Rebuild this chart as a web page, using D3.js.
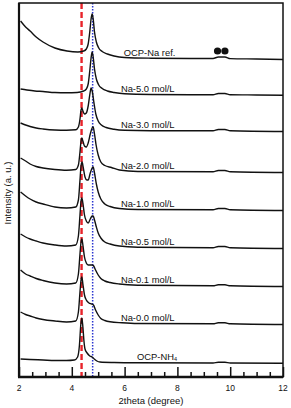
<!DOCTYPE html>
<html>
<head>
<meta charset="utf-8">
<script src="https://cdn.jsdelivr.net/npm/d3@7"></script>
<style>
  body { margin: 0; background: #fff; }
  text { font-family: "Liberation Sans", Arial, sans-serif; fill: #111; }
</style>
</head>
<body>
<div id="chart"></div>
<script>
// curve names, bottom to top
var names = ["OCP-NH4", "Na-0.0 mol/L", "Na-0.1 mol/L", "Na-0.5 mol/L", "Na-1.0 mol/L",
             "Na-2.0 mol/L", "Na-3.0 mol/L", "Na-5.0 mol/L", "OCP-Na ref."];
// vertical offset of every pattern (a. u.)
var offsets = [14, 53, 91, 129, 167, 205, 246, 282, 318];

// [2theta, intensity above offset]
var nh4 = [[2.06,4],[2.42,3.5],[2.91,3],[3.36,2.5],[3.8,2.5],[4.1,3],[4.22,6],[4.29,18],[4.34,38],[4.38,45],[4.42,36],[4.46,22],[4.5,14],[4.58,10],[4.68,7],[4.77,6],[4.85,4],[4.95,2],[5.07,1],[5.6,0.5],[6.5,0.2],[9.35,0],[9.55,0.8],[9.8,0.8],[10,0],[12,-0.3]];
var na00 = [[2.06,12],[2.25,9.5],[2.42,8],[2.65,6],[2.91,4.5],[3.36,3],[3.8,2],[4.15,3],[4.25,12],[4.31,32],[4.35,44],[4.38,47],[4.42,40],[4.48,29],[4.55,24],[4.65,21],[4.75,20],[4.82,19],[4.9,14],[5.0,9],[5.1,5.5],[5.25,3.5],[5.45,2.2],[5.9,1.2],[6.5,0.5],[9.35,0.2],[9.55,1.2],[9.8,1.2],[10,0.2],[12,-0.5]];
var na01 = [[2.06,16],[2.25,12],[2.42,10],[2.65,7.5],[2.91,5.5],[3.36,3],[3.8,2],[4.15,3],[4.25,12],[4.31,32],[4.35,44],[4.38,47],[4.42,41],[4.48,29],[4.55,23],[4.62,21],[4.7,21],[4.77,21],[4.83,20],[4.9,16],[5.0,11],[5.1,7.5],[5.25,5],[5.45,3.5],[5.8,2],[6.5,0.8],[9.35,0.2],[9.55,1.2],[9.8,1.2],[10,0.2],[12,-0.5]];
var na05 = [[2.06,14],[2.25,11],[2.42,9],[2.65,7],[2.91,5],[3.36,3],[3.8,2],[4.15,3],[4.25,12],[4.31,33],[4.35,47],[4.38,50],[4.42,45],[4.48,33],[4.55,27],[4.62,25],[4.7,29],[4.77,32],[4.81,32],[4.86,28],[4.93,21],[5.0,15],[5.1,10],[5.25,6],[5.45,4],[5.8,2],[6.5,0.8],[9.35,0.2],[9.55,1.5],[9.8,1.5],[10,0.2],[12,-0.5]];
var na10 = [[2.06,18],[2.25,14],[2.42,11],[2.65,8],[2.91,6],[3.36,3],[3.8,2],[4.15,3],[4.25,10],[4.31,30],[4.35,44],[4.39,48],[4.43,43],[4.5,33],[4.57,30],[4.62,30],[4.7,37],[4.77,42],[4.81,43],[4.86,37],[4.93,26],[5.0,18],[5.1,11],[5.25,6],[5.45,3.5],[5.8,1.5],[6.5,0.5],[9.35,0.2],[9.55,1.5],[9.8,1.5],[10,0.2],[12,-0.5]];
var na20 = [[2.06,14],[2.25,11],[2.42,8],[2.65,5.5],[2.91,4],[3.36,2.5],[3.8,1.8],[4.15,2.5],[4.25,7],[4.31,20],[4.35,31],[4.38,34],[4.42,31],[4.48,26],[4.55,25],[4.62,29],[4.7,38],[4.77,44],[4.81,45],[4.86,38],[4.92,27],[5.0,17],[5.1,10],[5.25,6.5],[5.5,4.5],[5.8,2],[6.5,0.5],[9.35,0.2],[9.55,1.5],[9.8,1.5],[10,0.2],[12,-0.5]];
var na30 = [[2.06,8],[2.25,6],[2.42,4.5],[2.65,3],[2.91,2],[3.36,1],[3.8,0.8],[4.15,1.2],[4.25,4],[4.31,12],[4.35,21],[4.38,23],[4.42,20],[4.48,17],[4.55,18],[4.62,25],[4.68,36],[4.73,43],[4.78,39],[4.84,28],[4.91,17],[5.0,10],[5.12,6],[5.3,3.5],[5.6,1.8],[6.0,0.8],[7,0.3],[9.35,0.2],[9.55,1.5],[9.8,1.5],[10,0.2],[12,-0.5]];
var na50 = [[2.06,6],[2.3,5],[2.6,4],[2.91,3.5],[3.36,2.5],[3.8,2.3],[4.2,2.5],[4.45,4],[4.55,6],[4.62,11],[4.68,24],[4.73,37],[4.77,43],[4.81,38],[4.86,26],[4.93,16],[5.02,10],[5.15,6.5],[5.35,4],[5.6,2.5],[6.0,1.2],[7,0.5],[8.5,0.3],[9.35,0.3],[9.55,1.5],[9.8,1.5],[10,0.3],[11,0],[12,-0.3]];
var ocpNa = [[2.06,38],[2.25,32],[2.42,28],[2.65,22],[2.91,17],[3.36,11],[3.82,8],[4.23,7],[4.45,8],[4.55,10],[4.62,15],[4.68,27],[4.73,40],[4.77,45],[4.81,40],[4.86,27],[4.93,17],[5.02,11],[5.15,7.5],[5.35,5],[5.6,3],[6.0,1.5],[7.0,0.8],[8.5,0.5],[9.35,0.5],[9.55,2],[9.8,2],[10.0,0.4],[11,0],[12,-0.5]];
var patterns = [nh4, na00, na01, na05, na10, na20, na30, na50, ocpNa];

var refLines = [4.37, 4.79];      // red dashed, blue dotted
var refDots = [9.52, 9.8];        // ●● marks
var xTicks = [2, 4, 6, 8, 10, 12];

var margin = {top: 3, right: 8, bottom: 31, left: 19},
    width = 291 - margin.left - margin.right,
    height = 408 - margin.top - margin.bottom;

var svg = d3.select("#chart").append("svg")
    .attr("width", 291).attr("height", 408)
  .append("g")
    .attr("transform", "translate(" + margin.left + "," + margin.top + ")");

var xs = d3.scaleLinear().domain([2, 12]).range([0, width]);
var ys = d3.scaleLinear().domain([0, height]).range([height, 0]);

// reference lines
svg.append("line")
    .attr("x1", xs(refLines[0])).attr("x2", xs(refLines[0]))
    .attr("y1", 0).attr("y2", height)
    .attr("stroke", "#e8232a").attr("stroke-width", 2.4)
    .attr("stroke-dasharray", "6,3");
svg.append("line")
    .attr("x1", xs(refLines[1])).attr("x2", xs(refLines[1]))
    .attr("y1", 0).attr("y2", height)
    .attr("stroke", "#2a35d0").attr("stroke-width", 1.5)
    .attr("stroke-dasharray", "1.5,1.5");

var line = d3.line().curve(d3.curveMonotoneX);

patterns.forEach(function(p, i) {
  svg.append("path")
      .attr("d", line(p.map(function(d) { return [xs(d[0]), ys(offsets[i] + d[1])]; })))
      .attr("fill", "none").attr("stroke", "#111").attr("stroke-width", 1.4);
});

// labels
var labelX = [6.47, 5.86, 5.86, 5.86, 5.86, 5.86, 5.86, 5.86, 5.97];
names.forEach(function(n, i) {
  var t = svg.append("text")
      .attr("x", xs(labelX[i])).attr("y", ys(offsets[i]) - 3.5)
      .attr("font-size", "9.4px").attr("fill", "#222");
  if (n === "OCP-NH4") {
    t.append("tspan").text("OCP-NH");
    t.append("tspan").text("4").attr("font-size", "5.5px").attr("dy", 1.5);
  } else {
    t.text(n);
  }
});

svg.selectAll(".dot").data(refDots).enter().append("circle")
    .attr("cx", function(d) { return xs(d); })
    .attr("cy", ys(offsets[8]) - 8)
    .attr("r", 3.6).attr("fill", "#111");

// frame
svg.append("rect")
    .attr("width", width).attr("height", height)
    .attr("fill", "none").attr("stroke", "#111").attr("stroke-width", 1.5);
svg.append("line").attr("x1", 0).attr("x2", 0).attr("y1", 0).attr("y2", height)
    .attr("stroke", "#111").attr("stroke-width", 2.2);

// x axis, ticks inward
var minor = d3.range(2, 12.01, 0.5).filter(function(d) { return d % 2 !== 0; });
var xAxis = svg.append("g").attr("transform", "translate(0," + height + ")");
xAxis.call(d3.axisTop(xs).tickValues(xTicks).tickSize(10).tickFormat(""));
xAxis.append("g").call(d3.axisTop(xs).tickValues(minor).tickSize(5).tickFormat(""));
xAxis.selectAll(".domain").remove();
xAxis.selectAll("line").attr("stroke", "#111").attr("stroke-width", 1.5);
svg.append("line").attr("x1", -1).attr("x2", width).attr("y1", height).attr("y2", height)
    .attr("stroke", "#111").attr("stroke-width", 2.5);

svg.selectAll(".xl").data(xTicks).enter().append("text")
    .attr("x", function(d) { return xs(d); })
    .attr("y", height + 14)
    .attr("text-anchor", "middle").attr("font-size", "8.5px")
    .text(function(d) { return d; });

svg.append("text")
    .attr("x", width / 2).attr("y", height + 27)
    .attr("text-anchor", "middle").attr("font-size", "9.5px")
    .text("2theta (degree)");

svg.append("text")
    .attr("transform", "translate(" + (-8) + "," + (190) + ") rotate(-90)")
    .attr("text-anchor", "middle").attr("font-size", "9.5px")
    .text("Intensity (a. u.)");
</script>
</body>
</html>
